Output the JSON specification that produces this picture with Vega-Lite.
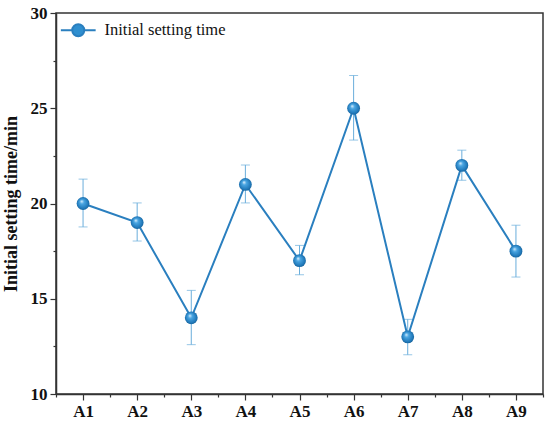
{
  "$schema": "https://vega.github.io/schema/vega-lite/v6.json",
  "autosize": "none",
  "width": 487,
  "height": 381,
  "padding": {"left": 56, "top": 13, "right": 7, "bottom": 31},
  "background": "white",
  "config": {
    "font": "Liberation Serif",
    "view": {"stroke": "#333333", "strokeWidth": 1.5},
    "axis": {
      "domainColor": "#333333",
      "domainWidth": 1.5,
      "tickColor": "#333333",
      "tickWidth": 1.2,
      "grid": false,
      "labelFont": "Liberation Serif",
      "labelFontWeight": "bold",
      "labelFontSize": 17,
      "labelColor": "#111111",
      "titleFont": "Liberation Serif",
      "titleFontWeight": "bold",
      "titleFontSize": 18,
      "titleColor": "#111111"
    }
  },
  "data": {
    "values": [
      {"x": 1, "series": "Initial setting time", "time": 20.0, "lo": 18.77, "hi": 21.28},
      {"x": 2, "series": "Initial setting time", "time": 19.0, "lo": 18.03, "hi": 20.03},
      {"x": 3, "series": "Initial setting time", "time": 14.0, "lo": 12.59, "hi": 15.44},
      {"x": 4, "series": "Initial setting time", "time": 21.0, "lo": 20.03, "hi": 22.02},
      {"x": 5, "series": "Initial setting time", "time": 17.0, "lo": 16.26, "hi": 17.8},
      {"x": 6, "series": "Initial setting time", "time": 25.0, "lo": 23.33, "hi": 26.72},
      {"x": 7, "series": "Initial setting time", "time": 13.0, "lo": 12.06, "hi": 13.92},
      {"x": 8, "series": "Initial setting time", "time": 22.0, "lo": 21.22, "hi": 22.8},
      {"x": 9, "series": "Initial setting time", "time": 17.5, "lo": 16.14, "hi": 18.86}
    ]
  },
  "encoding": {
    "x": {
      "field": "x",
      "type": "quantitative",
      "scale": {"domain": [0.5, 9.5], "nice": false, "zero": false},
      "axis": {
        "title": null,
        "values": [0.5, 1, 1.5, 2, 2.5, 3, 3.5, 4, 4.5, 5, 5.5, 6, 6.5, 7, 7.5, 8, 8.5, 9, 9.5],
        "labelExpr": "datum.value % 1 === 0 ? 'A' + datum.value : ''",
        "tickSize": {"condition": {"test": "datum.value % 1 === 0", "value": 6}, "value": 3},
        "labelPadding": 3
      }
    }
  },
  "layer": [
    {
      "mark": {"type": "errorbar", "color": "#6aaedb", "thickness": 1, "ticks": {"size": 9, "color": "#6aaedb", "thickness": 1}},
      "encoding": {
        "y": {"field": "lo", "type": "quantitative", "title": "Initial setting time/min"},
        "y2": {"field": "hi"}
      }
    },
    {
      "mark": {"type": "line", "strokeWidth": 2},
      "encoding": {
        "y": {
          "field": "time",
          "type": "quantitative",
          "scale": {"domain": [10, 30], "nice": false, "zero": false},
          "axis": {
            "title": "Initial setting time/min",
            "values": [10, 12.5, 15, 17.5, 20, 22.5, 25, 27.5, 30],
            "labelExpr": "datum.value % 5 === 0 ? datum.label : ''",
            "tickSize": {"condition": {"test": "datum.value % 5 === 0", "value": 6}, "value": 3},
            "labelPadding": 3,
            "titlePadding": 10
          }
        },
        "color": {
          "field": "series",
          "type": "nominal",
          "scale": {"range": ["#2a7fbf"]},
          "legend": {
            "title": null,
            "orient": "none",
            "legendX": 14,
            "legendY": 9,
            "symbolType": "M-2.9,0H-1M1,0H2.9M-1,0A1,1 0 1,0 1,0A1,1 0 1,0 -1,0",
            "symbolSize": 144,
            "symbolStrokeWidth": 2,
            "symbolFillColor": "#2f8fd0",
            "symbolStrokeColor": "#2a7fbf",
            "labelFont": "Liberation Serif",
            "labelFontSize": 16.5,
            "labelColor": "#111111",
            "labelOffset": 18
          }
        }
      }
    },
    {
      "mark": {
        "type": "circle",
        "size": 165,
        "opacity": 1,
        "fill": {
          "gradient": "radial",
          "x1": 0.38, "y1": 0.32, "r1": 0,
          "x2": 0.5, "y2": 0.5, "r2": 0.55,
          "stops": [
            {"offset": 0, "color": "#e6f4ff"},
            {"offset": 0.3, "color": "#4aa6e2"},
            {"offset": 0.8, "color": "#1f77b8"},
            {"offset": 1, "color": "#155a8c"}
          ]
        }
      },
      "encoding": {
        "y": {"field": "time", "type": "quantitative"}
      }
    }
  ]
}
